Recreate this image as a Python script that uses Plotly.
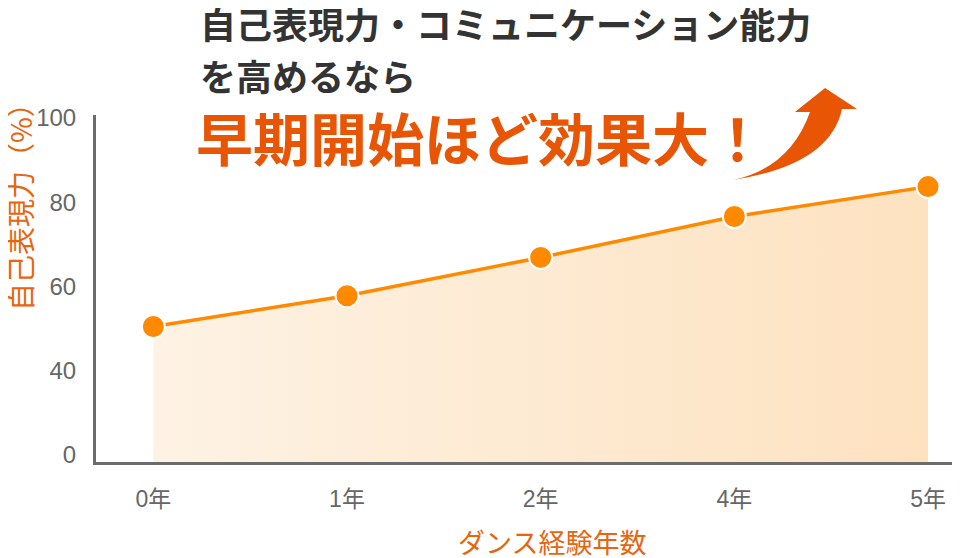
import plotly.graph_objects as go

# ── Data ─────────────────────────────────────────────────────
years = ["0年", "1年", "2年", "4年", "5年"]
ability = [50.5, 57.8, 66.9, 76.6, 83.7]

# y axis is broken: the bottom tick reads "0" but sits where 20 would be
tick_vals = [20, 40, 60, 80, 100]
tick_text = ["0", "40", "60", "80", "100"]

COLORS = {
    "line":   "#ff8a00",
    "accent": "#e85504",
    "label":  "#e8650f",
    "axis":   "#6b6b6b",
    "tick":   "#666666",
    "title":  "#333333",
    "fill_l": "#fdf2e4",
    "fill_r": "#fde2c0",
}

CJK = "Noto Sans CJK JP, sans-serif"

# page body has an 8px margin, so the figure is drawn 8px in from the corner
OFF = 8
W, H = 960 - OFF, 558 - OFF
# plot area in page pixels
L, R, T, B = 96, 960, 115, 462


def paper(x, y):
    """Page pixel position -> paper coordinates."""
    return (x - L) / (R - L), (B - y) / (B - T)


fig = go.Figure()

fig.add_trace(go.Scatter(
    x=years,
    y=ability,
    mode="lines+markers",
    fill="tozeroy",
    fillgradient=dict(
        type="horizontal",
        colorscale=[[0, COLORS["fill_l"]], [1, COLORS["fill_r"]]],
    ),
    line=dict(color=COLORS["line"], width=3.5),
    marker=dict(size=23, color=COLORS["line"], line=dict(width=2, color="white")),
    hoverinfo="x+y",
    showlegend=False,
))

# ── Curved arrow ─────────────────────────────────────────────
pts = [
    ("M", (733, 180)), ("Q", (830, 165)), ("", (842, 109)),
    ("L", (857, 109)), ("L", (825, 88)), ("L", (795, 112)),
    ("L", (810, 112)), ("Q", (790, 168)), ("", (733, 180)),
]
path = ""
for cmd, (px, py) in pts:
    ux, uy = paper(px, py)
    path += f"{cmd} {ux:.4f},{uy:.4f} "
path += "Z"

fig.add_shape(
    type="path", path=path, xref="paper", yref="paper",
    fillcolor=COLORS["accent"], line=dict(width=0), layer="above",
)

# ── Headline / axis titles as annotations ────────────────────
def note(text, px, py, size, color, xanchor="left", angle=0, bold=False):
    ux, uy = paper(px, py)
    fig.add_annotation(
        x=ux, y=uy, xref="paper", yref="paper",
        text=f"<b>{text}</b>" if bold else text,
        showarrow=False, xanchor=xanchor, yanchor="middle",
        textangle=angle,
        font=dict(family=CJK, size=size, color=color),
    )


note("自己表現力・コミュニケーション能力", 198, 23, 36, COLORS["title"], bold=True)
note("を高めるなら", 198, 75, 36, COLORS["title"], bold=True)
note("早期開始ほど効果大！", 194, 136, 57, COLORS["accent"], bold=True)
note("自己表現力（%）", 20, 200, 28, COLORS["label"], xanchor="center", angle=-90)
note("ダンス経験年数", 552, 541, 27, COLORS["label"], xanchor="center")

fig.update_layout(
    width=W,
    height=H,
    paper_bgcolor="white",
    plot_bgcolor="white",
    margin=dict(l=L - OFF, r=W - (R - OFF), t=T - OFF, b=H - (B - OFF)),
    font=dict(family="Liberation Sans, " + CJK, color=COLORS["tick"]),
    xaxis=dict(
        type="category",
        range=[-0.296, 4.165],
        showline=True, linecolor=COLORS["axis"], linewidth=3,
        showgrid=False, zeroline=False,
        ticks="", ticklabelstandoff=14,
        tickfont=dict(size=23, color=COLORS["tick"]),
    ),
    yaxis=dict(
        range=[18.34, 100.7],
        tickvals=tick_vals, ticktext=tick_text,
        showline=True, linecolor=COLORS["axis"], linewidth=3,
        showgrid=False, zeroline=False,
        ticks="", ticklabelstandoff=12,
        tickfont=dict(size=24, color=COLORS["tick"]),
    ),
)

fig.write_html("out.html")
